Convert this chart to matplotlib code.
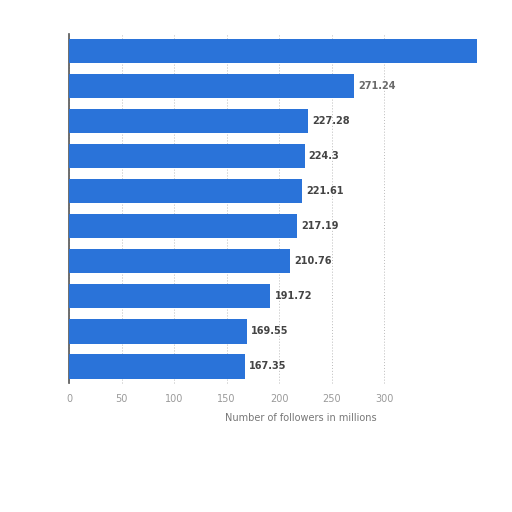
import matplotlib
matplotlib.use("Agg")
import matplotlib.pyplot as plt

categories = ["#1", "#2", "#3", "#4", "#5", "#6", "#7", "#8", "#9", "#10"]
values = [389.0, 271.24, 227.28, 224.3, 221.61, 217.19, 210.76, 191.72, 169.55, 167.35]
labels = ["", "271.24", "227.28", "224.3", "221.61", "217.19", "210.76", "191.72", "169.55", "167.35"]
xticks = [0, 50, 100, 150, 200, 250, 300]
xlabel = "Number of followers in millions"

fig = plt.figure(figsize=(5.12, 5.12), dpi=100)
ax = fig.add_axes([0.135, 0.252, 0.615, 0.682])

pos = list(range(len(categories)))
bars = ax.barh(pos, values, height=0.69, color="#2a73d9", zorder=3)
for b in bars:
    b.set_clip_on(False)
for i, (v, lab) in enumerate(zip(values, labels)):
    if lab:
        ax.text(v + 4, i, lab, va="center", ha="left", fontsize=7,
                fontweight="bold", color="#6a6a6a" if i == 1 else "#444444")

ax.set_xlim(0, 300)
ax.set_ylim(len(categories) - 0.53, -0.49)
ax.set_xticks(xticks)
ax.set_xticklabels([str(t) for t in xticks], fontsize=7, color="#9a9a9a")
ax.set_yticks(pos)
ax.set_yticklabels(["" for _ in categories])
ax.tick_params(axis="both", length=0, pad=8)
ax.grid(axis="x", linestyle=(0, (1, 2)), color="#bbbbbb", linewidth=0.7, zorder=0)
for gl in ax.get_xgridlines():
    gl.set_clip_on(False)
for s in ["top", "right", "bottom"]:
    ax.spines[s].set_visible(False)
ax.spines["left"].set_color("#555555")
ax.spines["left"].set_linewidth(1.2)

ax.set_xlabel(xlabel, fontsize=7, color="#777777", labelpad=4)
ax.xaxis.set_label_coords(0.975, -0.085)
ax.xaxis.label.set_ha("right")

fig.savefig("out.png", dpi=100, facecolor="white")
